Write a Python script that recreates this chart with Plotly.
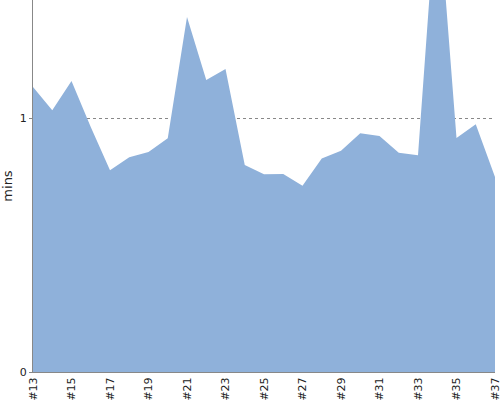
import plotly.graph_objects as go

categories = ["#%d" % i for i in range(13, 38)]
values = [1.122, 1.031, 1.146, 0.965, 0.795, 0.846, 0.866, 0.921, 1.398, 1.150,
          1.193, 0.815, 0.779, 0.780, 0.733, 0.841, 0.871, 0.940, 0.929, 0.863,
          0.854, 1.9, 0.922, 0.976, 0.768]
tick_labels = categories[::2]

fig = go.Figure()
fig.add_trace(go.Scatter(
    x=categories, y=values, mode="lines", fill="tozeroy",
    line=dict(width=0, color="#8fb1da"), fillcolor="#8fb1da",
    showlegend=False,
))

fig.update_layout(
    width=500, height=400,
    margin=dict(l=33, r=5, t=0, b=28, pad=0, autoexpand=False),
    plot_bgcolor="white", paper_bgcolor="white",
    font=dict(family="DejaVu Sans", size=11, color="#222"),
    xaxis=dict(
        type="category", range=[0, len(categories) - 1],
        tickmode="array", tickvals=tick_labels, ticktext=tick_labels,
        tickangle=-90, showgrid=False, zeroline=False,
        showline=True, linecolor="#888", linewidth=1,
        ticks="", ticklen=0, automargin=False,
    ),
    yaxis=dict(
        range=[0, 1.465], tickvals=[0, 1], ticktext=["0", "1"],
        showgrid=True, gridcolor="#888", griddash="dot", gridwidth=1,
        zeroline=False, showline=True, linecolor="#888", linewidth=1,
        ticks="outside", ticklen=3, tickcolor="#888", automargin=False,
        title=dict(text="mins", standoff=8),
    ),
)
fig.update_yaxes(layer="below traces")
fig.write_html(
    "out.html",
    config={"displayModeBar": False},
    post_script="document.body.style.margin='0';document.body.style.padding='0';",
)
